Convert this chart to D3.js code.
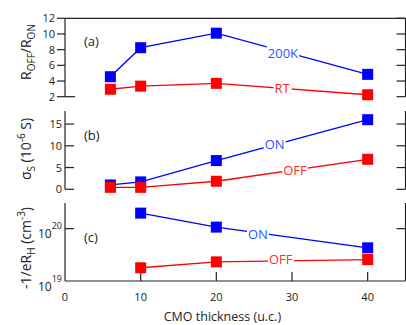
<!DOCTYPE html>
<html>
<head>
<meta charset="utf-8">
<script src="https://cdn.jsdelivr.net/npm/d3@7"></script>
<style>
  body { margin: 0; background: #fff; }
  svg { display: block; font-family: "Open Sans", sans-serif; }
</style>
</head>
<body>
<div id="chart"></div>
<script>
// thickness values (u.c.)
var thickA = [6, 10, 20, 40];
var thickB = [6, 10, 20, 40];
var thickC = [10, 20, 40];

// (a) R_OFF / R_ON
var ratio200K = [4.55, 8.25, 10.1, 4.85];
var ratioRT   = [2.95, 3.35, 3.7, 2.25];

// (b) sheet conductance, 10^-6 S
var sigmaON  = [1.0, 1.7, 6.6, 16.0];
var sigmaOFF = [0.45, 0.45, 1.85, 6.9];

// (c) carrier density, cm^-3
var densON  = [1.98e20, 1.07e20, 4.3e19];
var densOFF = [1.79e19, 2.32e19, 2.57e19];

var xTicks = [0, 10, 20, 30, 40];
var aTicks = [2, 4, 6, 8, 10, 12];
var bTicks = [0, 5, 10, 15];
var cTicks = [1e19, 1e20];

var W = 406, H = 325;
var blue = "#0000ff", red = "#ff0000";
var blueTxt = "#2a55ff", redTxt = "#ff2a2a";
var axisCol = "#222";

var svg = d3.select("#chart").append("svg")
  .attr("width", W).attr("height", H);

var x = d3.scaleLinear().domain([0, 45]).range([65, 405.5]);

var yA = d3.scaleLinear().domain([2, 12]).range([96.7, 18.3]);
var yB = d3.scaleLinear().domain([0, 18]).range([189.3, 111]);
var yC = d3.scaleLog().domain([1e19, Math.pow(10, 20.49)]).range([281, 203]);

// rich text helper: segments of [text, "sub"|"sup"|null]
function rich(sel, segs, size) {
  var small = Math.round(size * 0.72);
  var shift = 0;
  segs.forEach(function (s) {
    var target = 0;
    if (s[1] === "sub") target = size * 0.28;
    if (s[1] === "sup") target = -size * 0.42;
    sel.append("tspan")
      .attr("dy", target - shift)
      .style("font-size", (s[1] ? small : size) + "px")
      .text(s[0]);
    shift = target;
  });
}

function drawPanel(ys, ticks, top, bottom, leftOut, fmt) {
  var g = svg.append("g").attr("stroke", axisCol).attr("stroke-width", 1.2);
  var x0 = x.range()[0], x1 = x.range()[1];
  g.append("line").attr("x1", x0).attr("x2", x0).attr("y1", top).attr("y2", bottom);
  g.append("line").attr("x1", x1).attr("x2", x1).attr("y1", top).attr("y2", bottom);
  ticks.forEach(function (t) {
    var yy = ys(t);
    if (leftOut) {
      g.append("line").attr("x1", x0 - 8).attr("x2", x0).attr("y1", yy).attr("y2", yy);
    } else {
      g.append("line").attr("x1", x0).attr("x2", x0 + 9).attr("y1", yy).attr("y2", yy);
    }
    g.append("line").attr("x1", x1 - 9).attr("x2", x1).attr("y1", yy).attr("y2", yy);
  });
  if (fmt) {
    svg.append("g").selectAll("text").data(ticks).enter().append("text")
      .attr("x", leftOut ? x0 - 10 : x0 - 3)
      .attr("y", function (d) { return ys(d) + 4; })
      .attr("text-anchor", "end")
      .attr("fill", "#222")
      .style("font-size", "11px")
      .text(fmt);
  }
  return g;
}

// ---- panel (a)
var gA = drawPanel(yA, aTicks, 18.3, 96.7, true, function (d) { return d; });
gA.append("line").attr("x1", x.range()[0]).attr("x2", x.range()[1])
  .attr("y1", 18.3).attr("y2", 18.3);
gA.append("line").attr("x1", x.range()[0]).attr("x2", x.range()[0] + 10)
  .attr("y1", yA(2)).attr("y2", yA(2));

// ---- panel (b)
drawPanel(yB, bTicks, 111, 189.3, false, function (d) { return d; });

// ---- panel (c)
var gC = drawPanel(yC, [1e20], 203, 281, false, null);
gC.append("line").attr("x1", x.range()[0]).attr("x2", x.range()[1])
  .attr("y1", 281).attr("y2", 281);
xTicks.slice(1).forEach(function (t) {
  gC.append("line").attr("x1", x(t)).attr("x2", x(t)).attr("y1", 281).attr("y2", 272);
});
cTicks.forEach(function (t) {
  var tx = svg.append("text")
    .attr("x", 62).attr("y", yC(t) + 9.5)
    .attr("text-anchor", "end").attr("fill", "#222");
  tx.append("tspan").style("font-size", "12px").text("10");
  tx.append("tspan").attr("dy", -9).style("font-size", "9px")
    .text(Math.round(Math.log10(t)));
});

// x tick labels
svg.append("g").selectAll("text").data(xTicks).enter().append("text")
  .attr("x", function (d) { return x(d); })
  .attr("y", 301)
  .attr("text-anchor", "middle")
  .attr("fill", "#222")
  .style("font-size", "11px")
  .text(function (d) { return d; });

svg.append("text")
  .attr("x", x(20.8)).attr("y", 321)
  .attr("text-anchor", "middle").attr("fill", "#222")
  .style("font-size", "12.5px")
  .text("CMO thickness (u.c.)");

// y titles
function yTitle(cx, cy, segs) {
  var t = svg.append("text")
    .attr("transform", "translate(" + cx + "," + cy + ") rotate(-90)")
    .attr("text-anchor", "middle").attr("fill", "#222");
  rich(t, segs, 14);
}
yTitle(31, 52, [["R", null], ["OFF", "sub"], ["/R", null], ["ON", "sub"]]);
yTitle(31, 149, [["\u03c3", null], ["S", "sub"], [" (10", null], ["-6", "sup"], [" S)", null]]);
yTitle(31, 248, [["-1/eR", null], ["H", "sub"], [" (cm", null], ["-3", "sup"], [")", null]]);

// panel tags
[["(a)", 46], ["(b)", 140], ["(c)", 242]].forEach(function (p) {
  svg.append("text").attr("x", 84).attr("y", p[1])
    .attr("fill", "#222").style("font-size", "13px").text(p[0]);
});

// series
function series(xs, vals, ys, col) {
  var pts = xs.map(function (d, i) { return [x(d), ys(vals[i])]; });
  svg.append("path")
    .attr("d", d3.line()(pts))
    .attr("fill", "none").attr("stroke", col).attr("stroke-width", 1.3);
  svg.append("g").selectAll("rect").data(pts).enter().append("rect")
    .attr("x", function (p) { return p[0] - 5.5; })
    .attr("y", function (p) { return p[1] - 5.5; })
    .attr("width", 11).attr("height", 11)
    .attr("fill", col);
}

series(thickA, ratioRT, yA, red);
series(thickA, ratio200K, yA, blue);
series(thickB, sigmaON, yB, blue);
series(thickB, sigmaOFF, yB, red);
series(thickC, densON, yC, blue);
series(thickC, densOFF, yC, red);

// inline series labels (data-space positions)
var labels = [
  ["200K", 28.8, 7.55, yA, blueTxt],
  ["RT", 28.7, 3.05, yA, redTxt],
  ["ON", 27.7, 10.4, yB, blueTxt],
  ["OFF", 30.4, 4.4, yB, redTxt],
  ["ON", 25.5, 7.9e19, yC, blueTxt],
  ["OFF", 28.5, 2.63e19, yC, redTxt]
];
labels.forEach(function (l) {
  var t = svg.append("text")
    .attr("x", x(l[1])).attr("y", l[3](l[2]) + 4.5)
    .attr("text-anchor", "middle")
    .attr("fill", l[4])
    .style("font-size", "13px")
    .text(l[0]);
  var bb = t.node().getBBox();
  svg.insert("rect", function () { return t.node(); })
    .attr("x", bb.x - 1).attr("y", bb.y + 2)
    .attr("width", bb.width + 2).attr("height", bb.height - 4)
    .attr("fill", "#fff");
});
</script>
</body>
</html>
